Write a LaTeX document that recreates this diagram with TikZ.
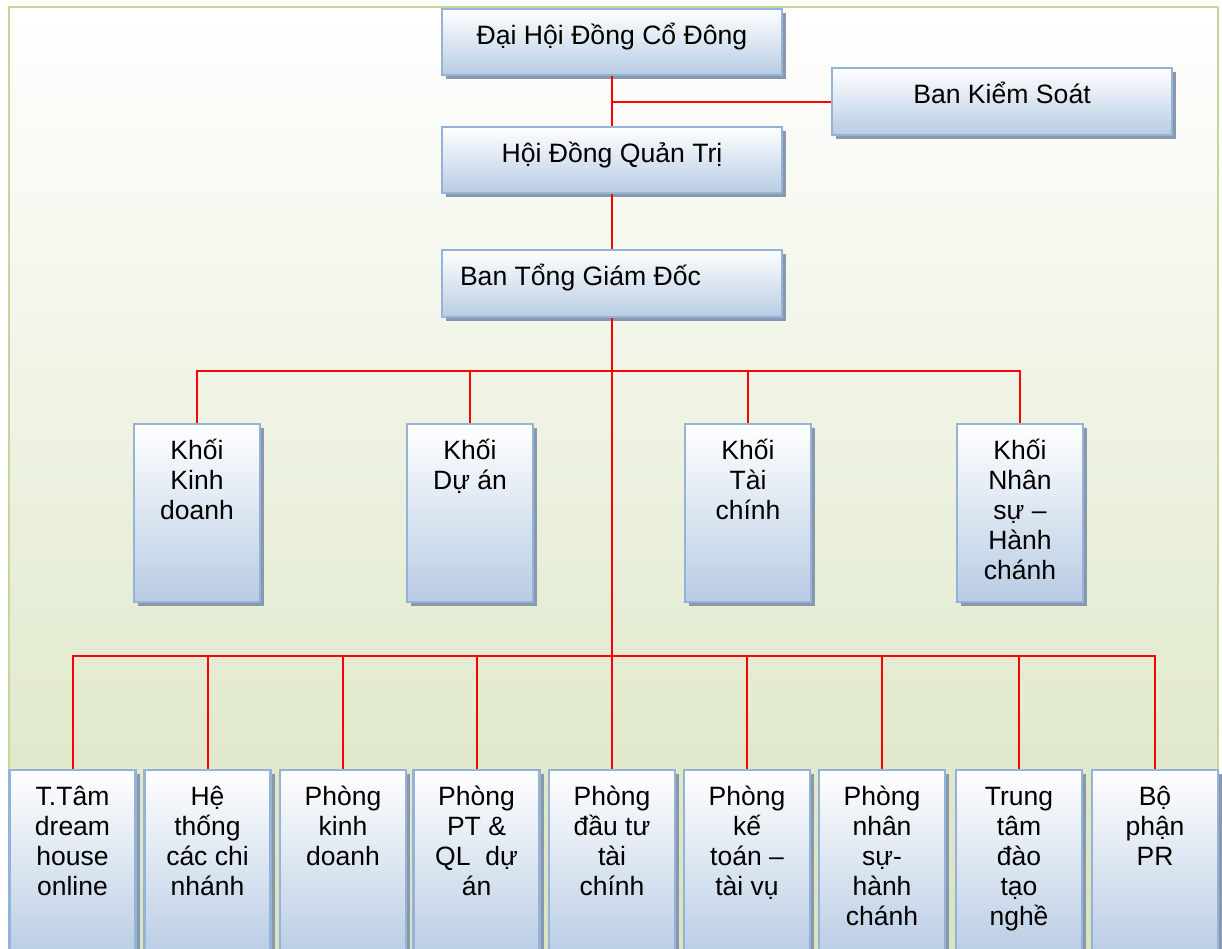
\documentclass[tikz,border=0pt]{standalone}
\usepackage{fontspec}
\setmainfont{Liberation Sans}
\usetikzlibrary{shadows}
\definecolor{boxline}{RGB}{149,179,215}
\definecolor{boxblue}{RGB}{184,204,228}
\definecolor{shadowcol}{RGB}{137,152,172}
\definecolor{bggreen}{RGB}{216,227,190}
\definecolor{bgmid}{RGB}{236,240,223}
\definecolor{framecol}{RGB}{195,214,155}
\newcommand{\boxtxt}[4]{\parbox[c][#2pt][t]{#1pt}{\fontsize{#3}{30}\selectfont\lineskiplimit=-100pt\centering\rule{0pt}{35.5pt}#4\par}}
\tikzset{
  box/.style={draw=boxline, line width=2.5pt, top color=white, bottom color=boxblue, inner sep=0pt,
    drop shadow={shadow xshift=4pt, shadow yshift=-4pt, fill=shadowcol, opacity=1}},
  link/.style={draw=red, line width=2pt}
}
\begin{document}
\begin{tikzpicture}[x=1pt,y=-1pt]
\clip (0,0) rectangle (1222,948);
\shade[top color=white, middle color=bgmid, bottom color=bggreen] (9,7) rectangle (1218,970);
\draw[framecol, line width=2.5pt] (9,970) -- (9,7) -- (1218,7) -- (1218,970);
% top boxes
\node[box] (dh) at (612,42) {\boxtxt{340}{66}{26.6}{Đại Hội Đồng Cổ Đông}};
\node[box] (bks) at (1002,101.5) {\boxtxt{340}{67}{26.6}{Ban Kiểm Soát}};
\node[box] (hd) at (612,160) {\boxtxt{340}{66}{26.6}{Hội Đồng Quản Trị}};
\node[box] (bt) at (612,283.5) {\parbox[c][67pt][t]{340pt}{\fontsize{26.6}{30}\selectfont\raggedright\hspace*{18pt}\rule{0pt}{35.5pt}Ban Tổng Giám Đốc\par}};
% khoi boxes
\node[box] (k1) at (197,513) {\boxtxt{126}{178}{26.5}{Khối\\Kinh\\doanh}};
\node[box] (k2) at (470,513) {\boxtxt{126}{178}{26.5}{Khối\\Dự án}};
\node[box] (k3) at (748,513) {\boxtxt{126}{178}{26.5}{Khối\\Tài\\chính}};
\node[box] (k4) at (1020,513) {\boxtxt{126}{178}{26.5}{Khối\\Nhân\\sự –\\Hành\\chánh}};
% bottom boxes
\node[box] (p1) at (72.5,865) {\boxtxt{126}{190}{26.5}{T.Tâm\\dream\\house\\online}};
\node[box] (p2) at (207.5,865) {\boxtxt{126}{190}{26.5}{Hệ\\thống\\các chi\\nhánh}};
\node[box] (p3) at (343,865) {\boxtxt{126}{190}{26.5}{Phòng\\kinh\\doanh}};
\node[box] (p4) at (476.5,865) {\boxtxt{126}{190}{26.5}{Phòng\\PT \&\\QL~~dự\\án}};
\node[box] (p5) at (612,865) {\boxtxt{126}{190}{26.5}{Phòng\\đầu tư\\tài\\chính}};
\node[box] (p6) at (747,865) {\boxtxt{126}{190}{26.5}{Phòng\\kế\\toán –\\tài vụ}};
\node[box] (p7) at (882,865) {\boxtxt{126}{190}{26.5}{Phòng\\nhân\\sự-\\hành\\chánh}};
\node[box] (p8) at (1019,865) {\boxtxt{126}{190}{26.5}{Trung\\tâm\\đào\\tạo\\nghề}};
\node[box] (p9) at (1155,865) {\boxtxt{126}{190}{26.5}{Bộ\\phận\\PR}};
% connectors
\coordinate (kb) at (612,371);
\coordinate (pb) at (612,656);
\draw[link] (dh.south) -- (hd.north);
\draw[link] (bks.west) -- (bks.west -| dh.south);
\draw[link] (hd.south) -- (bt.north);
\draw[link] (bt.south) -- (p5.north);
\draw[link] (k1.north) |- (kb) -| (k4.north);
\draw[link] (k2.north) -- (k2.north |- kb);
\draw[link] (k3.north) -- (k3.north |- kb);
\draw[link] (p1.north) |- (pb) -| (p9.north);
\foreach \n in {p2,p3,p4,p6,p7,p8} {\draw[link] (\n.north) -- (\n.north |- pb);}
\end{tikzpicture}
\end{document}
